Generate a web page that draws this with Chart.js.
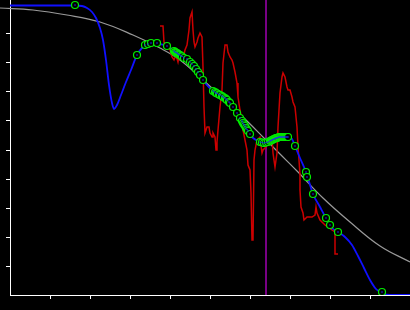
<!DOCTYPE html>
<html lang="en">
<head>
    <meta charset="UTF-8">
    <title>Fit vs measured</title>
    <script src="https://cdn.jsdelivr.net/npm/chart.js@4.4.0/dist/chart.umd.min.js"></script>
    <style>
        html, body { margin: 0; padding: 0; background: #000; }
        #wrap { width: 410px; height: 310px; }
    </style>
</head>
<body>
    <div id="wrap"><canvas id="chart" width="410" height="310"></canvas></div>

    <script>
        // x runs 0..400, y runs 0..295 (one y tick every 29)
        const xTicks = [40, 80, 120, 160, 200, 240, 280, 320, 360];
        const yTicks = [29, 58, 87, 116, 145, 174, 203, 232, 261];
        const markerX = 256;

        // smooth reference curve
        const refX = [-10, 23, 57, 90, 123, 150, 170, 193, 215, 237, 255, 270, 288, 313, 340, 370, 400];
        const refY = [287, 285, 280, 273, 260, 247, 235, 215, 195, 174, 156, 141, 123, 97, 73, 49, 33];

        // fitted (blue) curve
        const fitX = [0, 50, 65, 72, 77, 82, 86, 90, 93, 96, 99, 102, 104, 107, 111, 116, 121, 127, 132, 138,
            144, 150, 157, 164, 170, 177, 184, 190, 196, 203, 210, 217, 223, 230, 237, 242, 248, 255, 262, 270,
            278, 282, 285, 290, 296, 303, 310, 316, 322, 328, 335, 342, 348, 354, 360, 366, 372, 380, 400];
        const fitY = [289.5, 289.5, 289.5, 289, 287, 283, 277, 267, 255, 235, 210, 192, 186, 190, 200, 213, 225, 240, 247, 251,
            252, 251, 249, 244, 240, 235, 229, 220, 211, 204, 200, 195, 188, 177, 165, 158, 154, 152, 154, 157,
            158, 156, 149, 137, 123, 101, 88, 77, 67, 63, 58, 50, 39, 27, 15, 6, 2, 0, 0];

        // measured (red) trace
        const rawX = [150, 153, 154, 156, 158, 160, 162, 164, 166, 168, 170, 173, 175, 177, 179, 180, 182, 183, 184, 185,
            187, 188, 190, 192, 193, 194, 195, 197, 199, 200, 202, 203, 205, 206, 207, 208, 210, 212, 213, 215,
            217, 218, 220, 222, 223, 225, 227, 228, 230, 232, 233, 235, 237, 238, 240, 241, 242, 243, 244, 245,
            247, 250, 252, 253, 256, 258, 262, 263, 265, 267, 268, 269, 270, 272, 273, 275, 277, 278, 280, 282,
            283, 285, 287, 288, 289, 290, 290, 291, 293, 294, 297, 302, 305, 306, 307, 310, 315, 322, 325, 325, 328];
        const rawY = [269, 269, 253, 247, 250, 245, 238, 235, 240, 233, 243, 237, 245, 250, 265, 277, 283, 265, 253, 248,
            253, 257, 262, 258, 228, 188, 162, 168, 168, 162, 158, 162, 158, 145, 153, 165, 188, 205, 232, 250,
            250, 243, 238, 235, 232, 223, 212, 198, 185, 175, 165, 155, 145, 130, 125, 102, 55, 55, 135, 145,
            155, 158, 142, 145, 148, 152, 158, 142, 128, 142, 168, 185, 202, 218, 222, 218, 208, 205, 205, 198,
            193, 188, 168, 148, 135, 120, 105, 88, 82, 75, 78, 78, 80, 88, 82, 75, 70, 65, 63, 41, 41];

        // sample points (green circles)
        const sampleX = [65, 127, 135, 138, 141, 147, 157,
            164, 165, 166, 167, 168, 169, 170, 171, 172, 174, 177, 180, 182, 184, 186, 188, 190, 193,
            203, 205, 206, 207, 209, 210, 212, 213, 215, 216, 217, 219, 220, 223,
            227, 230, 232, 233, 234, 235, 236, 237, 238, 240,
            250, 252, 254, 256, 258, 260, 261, 262, 263, 264, 265, 266, 267, 268, 269, 270, 271, 272, 273, 274, 275, 276, 277, 278,
            285, 296, 297, 303, 316, 320, 328, 372];
        const sampleY = [290, 240, 250, 251, 252, 252, 249,
            244, 243, 242.5, 242, 241, 240.5, 240, 239, 238.5, 237, 236, 233, 231, 229, 226, 223, 220, 215,
            204, 203, 202, 201.5, 200.5, 200, 199, 198, 197, 196, 195, 193, 192, 188,
            182, 177, 174, 172, 170.5, 169, 167, 165.5, 164, 161,
            153, 152.5, 152, 152.5, 153, 154, 154.5, 155, 155.5, 156, 156.5, 157, 157, 157.5, 158, 158, 158, 158, 158, 158, 158, 158, 158, 158,
            149, 123, 118, 101, 77, 70, 63, 3];

        function pairs(xs, ys) {
            return xs.map((x, i) => ({ x: x, y: ys[i] }));
        }

        const samples = pairs(sampleX, sampleY);

        new Chart(document.getElementById('chart'), {
            type: 'scatter',
            data: {
                datasets: [
                    {
                        data: samples,
                        showLine: false,
                        pointRadius: 0.8,
                        pointBackgroundColor: '#2020ff',
                        pointBorderWidth: 0
                    },
                    {
                        data: samples,
                        showLine: false,
                        pointRadius: 3.5,
                        pointBorderColor: '#00ee00',
                        pointBackgroundColor: '#000000',
                        pointBorderWidth: 1.2
                    },
                    {
                        data: pairs(fitX, fitY),
                        showLine: true,
                        borderColor: '#1010ff',
                        borderWidth: 1.8,
                        pointRadius: 0,
                        cubicInterpolationMode: 'monotone'
                    },
                    {
                        data: pairs(rawX, rawY),
                        showLine: true,
                        borderColor: '#cc0000',
                        borderWidth: 1.5,
                        pointRadius: 0
                    },
                    {
                        data: [{ x: markerX, y: 0 }, { x: markerX, y: 295 }],
                        showLine: true,
                        borderColor: '#a000b0',
                        borderWidth: 1.5,
                        pointRadius: 0
                    },
                    {
                        data: pairs(refX, refY),
                        showLine: true,
                        borderColor: '#9a9a9a',
                        borderWidth: 1.2,
                        pointRadius: 0,
                        tension: 0.4,
                        clip: false
                    }
                ]
            },
            options: {
                responsive: false,
                animation: false,
                devicePixelRatio: 1,
                layout: { autoPadding: false, padding: { left: 6, right: 0, top: 0, bottom: 11 } },
                plugins: { legend: { display: false }, tooltip: { enabled: false } },
                scales: {
                    x: {
                        type: 'linear',
                        min: 0,
                        max: 400,
                        afterBuildTicks: (scale) => { scale.ticks = xTicks.map(v => ({ value: v })); },
                        ticks: { display: false },
                        grid: { drawOnChartArea: false, drawTicks: true, tickLength: 4, color: '#ffffff', lineWidth: 1 },
                        border: { color: '#ffffff', width: 1 }
                    },
                    y: {
                        type: 'linear',
                        min: 0,
                        max: 295,
                        afterBuildTicks: (scale) => { scale.ticks = yTicks.map(v => ({ value: v })); },
                        ticks: { display: false },
                        grid: { drawOnChartArea: false, drawTicks: true, tickLength: 4, color: '#ffffff', lineWidth: 1 },
                        border: { color: '#ffffff', width: 1 }
                    }
                }
            }
        });
    </script>
</body>
</html>
